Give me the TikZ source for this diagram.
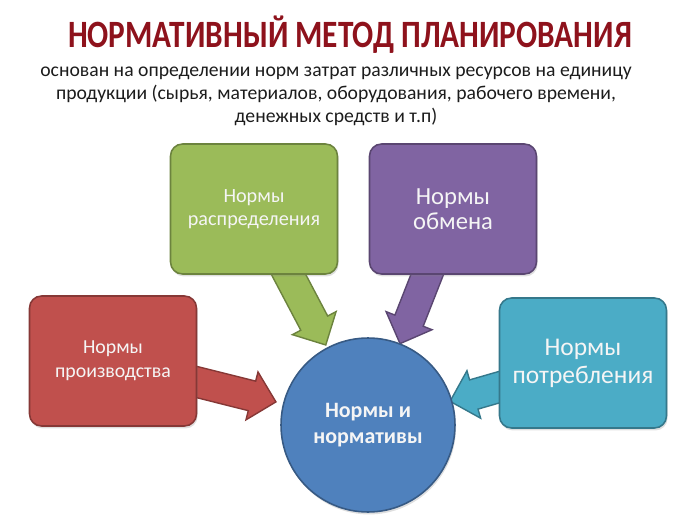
\documentclass[tikz,border=0pt]{standalone}
\usepackage{fontspec}
\setmainfont{Carlito}
\usepackage{tikz}
\usetikzlibrary{shapes,arrows,calc,positioning,backgrounds,shadows}
\definecolor{granate}{RGB}{142,18,28}
\definecolor{grisTexto}{RGB}{28,28,28}
\definecolor{blanco}{RGB}{245,245,245}
\definecolor{verde}{RGB}{155,187,89}
\definecolor{violeta}{RGB}{128,100,162}
\definecolor{rojo}{RGB}{192,80,77}
\definecolor{turquesa}{RGB}{75,172,198}
\definecolor{azul}{RGB}{79,129,189}
\tikzstyle{caja}  =[rectangle, rounded corners=0.24cm,
                    minimum width=3.34cm, minimum height=2.6cm,
                    line width=0.9pt, text=blanco, align=center,
                    drop shadow={opacity=0.25,shadow xshift=0.6pt,
                    shadow yshift=-1.4pt}]
\tikzstyle{circulo}=[circle, minimum size=3.48cm, inner sep=0pt,
                    line width=0.9pt, text=blanco, align=center,
                    drop shadow={opacity=0.25,shadow xshift=0.6pt,
                    shadow yshift=-1.4pt}]
\tikzstyle{flecha}=[single arrow, inner xsep=0pt, inner ysep=0.29cm,
                    minimum width=0.96cm, single arrow head extend=0.19cm,
                    line width=0.8pt, sloped, allow upside down]

\begin{document}
\begin{tikzpicture}[x=0.02cm,y=-0.02cm]
    \useasboundingbox (0,0) rectangle (700,524);

    \draw (350,35) node (titulo) [text=granate,font=\bfseries\fontsize{22}{26}\selectfont]
        {\scalebox{0.81}[1]{НОРМАТИВНЫЙ МЕТОД ПЛАНИРОВАНИЯ}};
    \draw (336,96) node (lema) [text=grisTexto,align=center,
        font=\fontsize{11.2}{13}\selectfont]
        {основан на определении норм затрат различных ресурсов на единицу\\
         продукции (сырья, материалов, оборудования, рабочего времени,\\
         денежных средств и т.п)};

    \draw (254,209) node (distribucion) [caja,fill=verde,draw=verde!70!black,
        font=\fontsize{11.5}{13}\selectfont] {Нормы\\распределения};
    \draw (453,209) node (intercambio) [caja,fill=violeta,draw=violeta!70!black,
        font=\fontsize{14}{14.5}\selectfont] {Нормы\\обмена};
    \draw (113,361) node (produccion) [caja,fill=rojo,draw=rojo!70!black,
        font=\fontsize{11.3}{13.5}\selectfont] {Нормы\\производства};
    \draw (583,363) node (consumo) [caja,fill=turquesa,draw=turquesa!70!black,
        font=\fontsize{14.5}{16}\selectfont] {Нормы\\потребления};
    \draw (368,425) node (normas) [circulo,fill=azul,draw=azul!70!black,
        font=\bfseries\fontsize{12.5}{15}\selectfont] {Нормы и\\нормативы};

    % puntas de las flechas
    \coordinate (puntaRoja) at ($(normas.center)!2.05cm!(produccion.center)$);
    \coordinate (puntaVerde) at ($(normas.center)!1.96cm!(distribucion.center)$);
    \coordinate (puntaVioleta) at ($(normas.center)!1.9cm!(intercambio.center)$);
    \coordinate (puntaTurquesa) at ($(normas.center)!1.86cm!(consumo.center)$);

    \begin{scope}[on background layer]
        \foreach \i/\j/\c in{produccion/puntaRoja/rojo,distribucion/puntaVerde/verde,
        intercambio/puntaVioleta/violeta,consumo/puntaTurquesa/turquesa}
            \path let \p1=($(\j)-(\i.center)$), \n1={veclen(\x1,\y1)} in
                (\i.center) -- (\j) node [flecha,fill=\c,draw=\c!70!black,
                midway,minimum height=\n1] {};
    \end{scope}

\end{tikzpicture}
\end{document}
